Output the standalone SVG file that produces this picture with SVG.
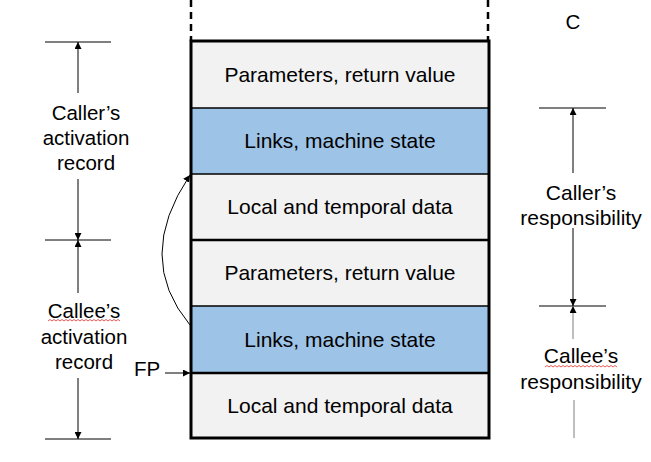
<svg xmlns="http://www.w3.org/2000/svg" width="651" height="462" viewBox="0 0 651 462">
<defs>
<marker id="ah" viewBox="0 0 10 10" refX="10" refY="5" markerWidth="7" markerHeight="7" markerUnits="userSpaceOnUse" orient="auto">
<path d="M0,0 L10,5 L0,10 z" fill="#000"/>
</marker>
<style>
text{font-family:"Liberation Sans",Arial,sans-serif;font-size:20.5px;fill:#000;text-anchor:middle}
text.row{font-size:21px}
text.rt{font-size:21px}
.grey{fill:#f2f2f2}
.blue{fill:#9dc3e6}
.sep{stroke:#000;stroke-width:1.5}
.sepb{stroke:#000;stroke-width:2.5}
.ln{stroke:#000;stroke-width:1;fill:none}
.lg{stroke:#7f7f7f;stroke-width:1;fill:none}
.wavy{stroke:#e03030;stroke-width:0.8;fill:none}
</style>
</defs>
<rect width="651" height="462" fill="#fff"/>
<g id="stack">
<line x1="191" y1="0" x2="191" y2="41" stroke="#000" stroke-width="2.5" stroke-dasharray="7,5"/>
<line x1="488" y1="0" x2="488" y2="41" stroke="#000" stroke-width="2.5" stroke-dasharray="7,5"/>
<g id="row1"><rect class="grey" x="191" y="41" width="298" height="67"/><text class="row" x="340" y="82">Parameters, return value</text></g>
<g id="row2"><rect class="blue" x="191" y="108" width="298" height="66"/><text class="row" x="340" y="148">Links, machine state</text></g>
<g id="row3"><rect class="grey" x="191" y="174" width="298" height="66"/><text class="row" x="340" y="214">Local and temporal data</text></g>
<g id="row4"><rect class="grey" x="191" y="240" width="298" height="66"/><text class="row" x="340" y="280">Parameters, return value</text></g>
<g id="row5"><rect class="blue" x="191" y="306" width="298" height="67"/><text class="row" x="340" y="347">Links, machine state</text></g>
<g id="row6"><rect class="grey" x="191" y="373" width="298" height="65"/><text class="row" x="340" y="413">Local and temporal data</text></g>
<line class="sep" x1="191" y1="108" x2="489" y2="108"/>
<line class="sep" x1="191" y1="174" x2="489" y2="174"/>
<line class="sepb" x1="191" y1="240" x2="489" y2="240"/>
<line class="sep" x1="191" y1="306" x2="489" y2="306"/>
<line class="sepb" x1="191" y1="373" x2="489" y2="373"/>
<rect x="191" y="41" width="298" height="397" fill="none" stroke="#000" stroke-width="3"/>
</g>
<g id="labels">
<g id="caller-record"><text x="86" y="120">Caller’s</text><text x="86" y="145">activation</text><text x="86" y="170">record</text></g>
<g id="callee-record"><text x="84" y="318">Callee’s</text><text x="84" y="344">activation</text><text x="84" y="369">record</text>
<path class="wavy" d="M48,321 l2,-1.5 l2,1.5 l2,-1.5 l2,1.5 l2,-1.5 l2,1.5 l2,-1.5 l2,1.5 l2,-1.5 l2,1.5 l2,-1.5 l2,1.5 l2,-1.5 l2,1.5 l2,-1.5 l2,1.5 l2,-1.5 l2,1.5 l2,-1.5 l2,1.5 l2,-1.5 l2,1.5 l2,-1.5 l2,1.5 l2,-1.5 l2,1.5 l2,-1.5 l2,1.5 l2,-1.5 l2,1.5 l2,-1.5 l2,1.5 l2,-1.5 l2,1.5 l2,-1.5 l2,1.5"/></g>
<g id="fp"><text x="147" y="376">FP</text></g>
<g id="c"><text x="573" y="29">C</text></g>
<g id="caller-resp"><text class="rt" x="581" y="200">Caller’s</text><text class="rt" x="581" y="225">responsibility</text></g>
<g id="callee-resp"><text class="rt" x="581" y="363">Callee’s</text><text class="rt" x="581" y="389">responsibility</text>
<path class="wavy" d="M545,367 l2,-1.5 l2,1.5 l2,-1.5 l2,1.5 l2,-1.5 l2,1.5 l2,-1.5 l2,1.5 l2,-1.5 l2,1.5 l2,-1.5 l2,1.5 l2,-1.5 l2,1.5 l2,-1.5 l2,1.5 l2,-1.5 l2,1.5 l2,-1.5 l2,1.5 l2,-1.5 l2,1.5 l2,-1.5 l2,1.5 l2,-1.5 l2,1.5 l2,-1.5 l2,1.5 l2,-1.5 l2,1.5 l2,-1.5 l2,1.5 l2,-1.5 l2,1.5 l2,-1.5 l2,1.5"/></g>
</g>
<g id="connectors">
<line class="ln" x1="45" y1="42" x2="111" y2="42"/>
<line class="ln" x1="45" y1="240" x2="111" y2="240"/>
<line class="ln" x1="45" y1="439" x2="111" y2="439"/>
<line class="ln" x1="78" y1="93" x2="78" y2="42" marker-end="url(#ah)"/>
<line class="ln" x1="78" y1="179" x2="78" y2="240" marker-end="url(#ah)"/>
<line class="ln" x1="78" y1="293" x2="78" y2="240" marker-end="url(#ah)"/>
<line class="ln" x1="78" y1="378" x2="78" y2="439" marker-end="url(#ah)"/>
<line class="ln" x1="539" y1="108" x2="606" y2="108"/>
<line class="ln" x1="539" y1="306" x2="606" y2="306"/>
<line class="ln" x1="573" y1="173" x2="573" y2="108" marker-end="url(#ah)"/>
<line class="ln" x1="573" y1="228" x2="573" y2="306" marker-end="url(#ah)"/>
<line class="lg" x1="573" y1="339" x2="573" y2="306" marker-end="url(#ah)"/>
<line class="lg" x1="574" y1="400" x2="574" y2="438"/>
<line class="ln" x1="165" y1="373" x2="190" y2="373" marker-end="url(#ah)"/>
<path class="ln" d="M190,325 Q134,258 190,175" marker-end="url(#ah)"/>
</g>
</svg>
